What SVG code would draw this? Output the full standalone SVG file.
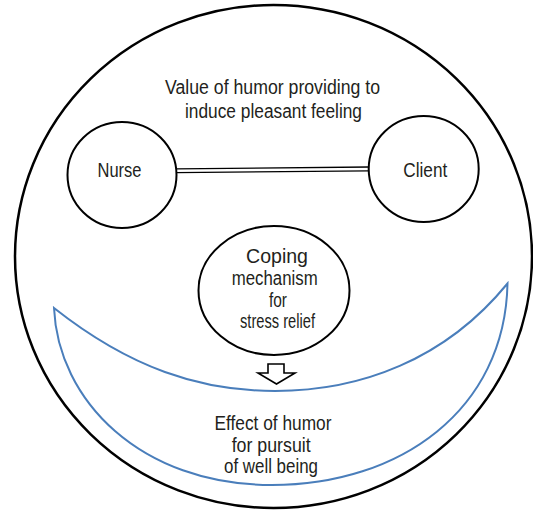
<svg xmlns="http://www.w3.org/2000/svg" width="533" height="512" viewBox="0 0 533 512">
<style>
.t{font-family:"Liberation Sans",Arial,sans-serif;font-size:19.5px;fill:#231f20;text-anchor:middle}
.blk{fill:none;stroke:#000;stroke-width:2}
.smile{fill:none;stroke:#4a7ebb;stroke-width:2;stroke-linejoin:miter}
</style>
<rect width="533" height="512" fill="#fff"/>
<g id="face">
<ellipse cx="273.5" cy="256.5" rx="258.5" ry="251.5" fill="none" stroke="#000" stroke-width="2.5"/>
</g>
<g id="smile">
<path class="smile" d="M54,308 C130,368 200,391 275,391 C360,391 445,360 507.5,283.5 C505,410 400,485 272,485 C140,485 58,400 54,308 Z"/>
</g>
<g id="title">
<text class="t" x="272.5" y="94" textLength="215" lengthAdjust="spacingAndGlyphs">Value of humor providing to</text>
<text class="t" x="273.5" y="117.5" textLength="177" lengthAdjust="spacingAndGlyphs">induce pleasant feeling</text>
</g>
<g id="connectors">
<line x1="176" y1="168.8" x2="369" y2="167" stroke="#000" stroke-width="1.3"/>
<line x1="176" y1="172.6" x2="369" y2="170.8" stroke="#000" stroke-width="1.3"/>
<polygon points="268,364 284,364 284,373 295,373 276.5,384 258,373 268,373" fill="#fff" stroke="#000" stroke-width="1.6" stroke-linejoin="miter"/>
</g>
<g id="nurse">
<ellipse class="blk" cx="122" cy="175" rx="54.5" ry="53"/>
<text class="t" x="119.5" y="177.3" textLength="44" lengthAdjust="spacingAndGlyphs">Nurse</text>
</g>
<g id="client">
<ellipse class="blk" cx="423.7" cy="169" rx="55" ry="53"/>
<text class="t" x="425.3" y="176.7" textLength="44" lengthAdjust="spacingAndGlyphs">Client</text>
</g>
<g id="coping">
<ellipse class="blk" cx="274" cy="290.5" rx="75.5" ry="64.5"/>
<text class="t" x="277" y="263.3" textLength="62" lengthAdjust="spacingAndGlyphs">Coping</text>
<text class="t" x="274.7" y="285" textLength="86" lengthAdjust="spacingAndGlyphs">mechanism</text>
<text class="t" x="278" y="306.7" textLength="18" lengthAdjust="spacingAndGlyphs">for</text>
<text class="t" x="277.5" y="328.3" textLength="75" lengthAdjust="spacingAndGlyphs">stress relief</text>
</g>
<g id="effect">
<text class="t" x="273" y="429.5" textLength="117" lengthAdjust="spacingAndGlyphs">Effect of humor</text>
<text class="t" x="271.2" y="451.5" textLength="79" lengthAdjust="spacingAndGlyphs">for pursuit</text>
<text class="t" x="271" y="473.3" textLength="94" lengthAdjust="spacingAndGlyphs">of well being</text>
</g>
</svg>
